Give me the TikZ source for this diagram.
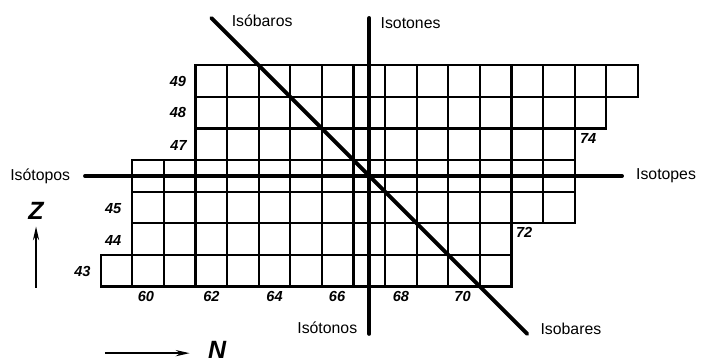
\documentclass[tikz,border=0pt]{standalone}
\usepackage{fontspec}
\setmainfont{Liberation Sans}
\usepackage{tikz}
\usetikzlibrary{arrows.meta,positioning}

\begin{document}
\begin{tikzpicture}[x=0.8cm,y=0.8cm,
    cell/.style={draw, line width=1.6pt, minimum size=0.8cm, inner sep=0pt, outer sep=0pt},
    bigline/.style={line width=2.8pt, line cap=round},
    num/.style={font=\fontsize{10.5}{12}\selectfont\bfseries\itshape, inner sep=0pt},
    lbl/.style={font=\fontsize{11.4}{13}\selectfont, inner sep=0pt},
    axlbl/.style={font=\fontsize{18}{22}\selectfont\bfseries\itshape, inner sep=0pt},
    axis/.style={line width=1pt, -{Stealth[length=10pt,width=4.5pt]}}]
    \useasboundingbox (55.31,40.08) rectangle (77.50,51.57);

    % Cells (N, Z)
    \foreach \z/\a/\b in {49/62/75, 48/62/74, 47/62/73, 46/60/73, 45/60/73, 44/60/71, 43/59/71}
        \foreach \n in {\a,...,\b}
            \node[cell] (c\n-\z) at (\n,\z) {};

    % Z numbers
    \node[num] (z49) at (60.94,48.98) {49};
    \node[num] (z48) at (60.94,48.00) {48};
    \node[num] (z47) at (60.96,46.96) {47};
    \node[num] (z45) at (58.89,44.98) {45};
    \node[num] (z44) at (58.89,43.97) {44};
    \node[num] (z43) at (57.92,42.97) {43};

    % N numbers
    \node[num] (n60) at (59.93,42.2) {60};
    \node[num] (n62) at (62,42.2) {62};
    \node[num] (n64) at (64,42.2) {64};
    \node[num] (n66) at (65.98,42.2) {66};
    \node[num] (n68) at (68,42.2) {68};
    \node[num] (n70) at (69.95,42.2) {70};
    \node[num] (n72) at (71.9,44.21) {72};
    \node[num] (n74) at (73.93,47.17) {74};

    % Lines ends
    \coordinate (isotopL) at (58,46);
    \coordinate (isotopR) at (75,46);
    \coordinate (isotonT) at (67,51);
    \coordinate (isotonB) at (67,41);
    \coordinate (isobarT) at (62,51);
    \coordinate (isobarB) at (72,41);

    % Lines
    \draw[bigline] (isotopL) -- (isotopR);
    \draw[bigline] (isotonT) -- (isotonB);
    \draw[bigline] (isobarT) -- (isobarB);

    % Line labels
    \node[lbl, left=0.37cm of isotopL] (tIsotopos) {Isótopos};
    \node[lbl, right=0.35cm of isotopR] (tIsotopes) {Isotopes};
    \node[lbl, right=0.51cm of isobarT, yshift=-0.06cm] (tIsobaros) {Isóbaros};
    \node[lbl, right=0.28cm of isotonT, yshift=-0.12cm] (tIsotones) {Isotones};
    \node[lbl, left=0.3cm of isotonB, yshift=0.15cm] (tIsotonos) {Isótonos};
    \node[lbl, right=0.33cm of isobarB, yshift=0.12cm] (tIsobares) {Isobares};

    % Axes
    \coordinate (zfoot) at (56.45,42.46);
    \coordinate (zhead) at (56.45,44.40);
    \coordinate (nfoot) at (58.63,40.39);
    \coordinate (nhead) at (61.31,40.39);
    \draw[axis] (zfoot) -- (zhead);
    \draw[axis] (nfoot) -- (nhead);
    \node[axlbl] (zlbl) at (56.45,44.89) {Z};
    \node[axlbl] (nlbl) at (62.18,40.50) {N};
\end{tikzpicture}
\end{document}
